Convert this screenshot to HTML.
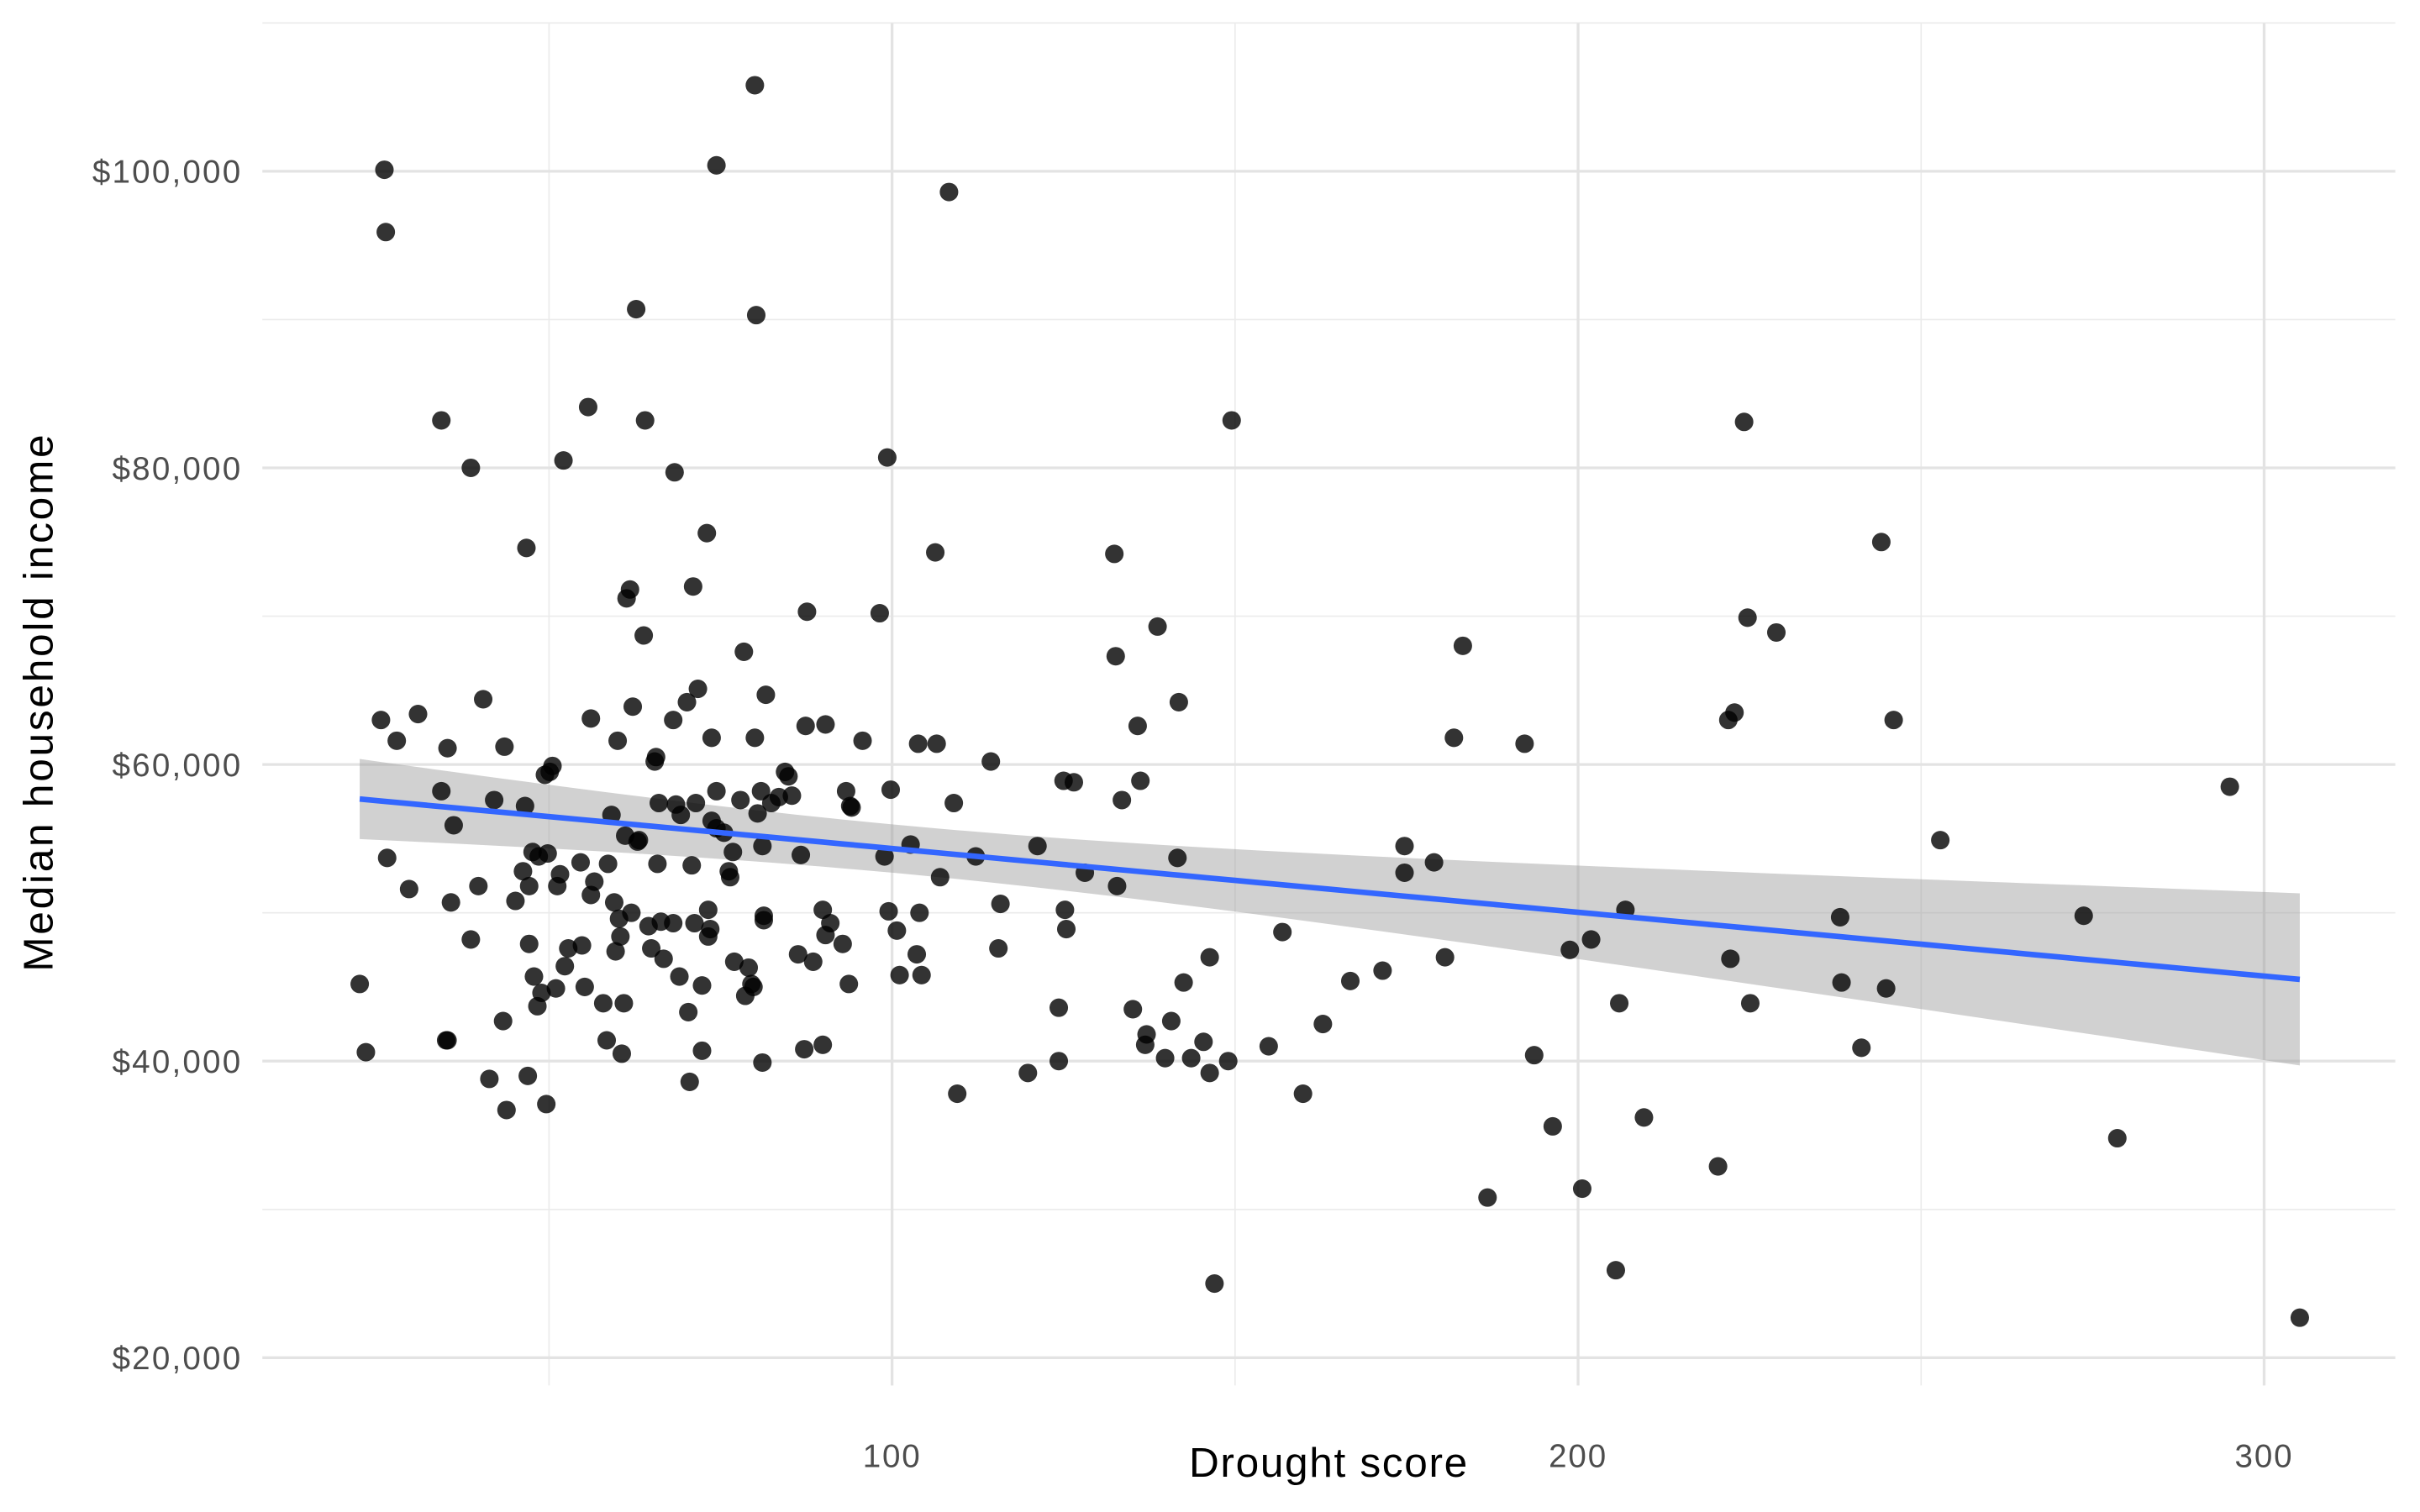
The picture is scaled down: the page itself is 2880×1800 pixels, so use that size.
<!DOCTYPE html>
<html><head><meta charset="utf-8"><style>
html,body{margin:0;padding:0;background:#fff;}
svg{display:block;}
</style></head><body>
<svg id="chart" width="2880" height="1800" viewBox="0 0 1568 980" xmlns="http://www.w3.org/2000/svg" font-family="'Liberation Sans', sans-serif">
<g id="grid"></g>
<g id="band"></g>
<g id="pts"></g>
<g id="fit"></g>
<g id="axes"></g>
<text x="861" y="957" font-size="27" letter-spacing="0.9" text-anchor="middle" fill="#000">Drought score</text>
<text transform="translate(34,455) rotate(-90)" font-size="27" letter-spacing="1.5" text-anchor="middle" fill="#000">Median household income</text>
</svg>
<script>
const droughtScores = [22.4,23.3,26.0,26.2,25.5,26.4,27.8,29.6,30.9,34.3,34.3,35.0,35.2,35.2,35.7,36.1,38.6,38.6,39.7,40.4,41.3,42.0,43.3,43.5,43.8,45.1,46.2,46.5,46.7,46.9,47.1,47.1,47.6,47.8,48.3,48.5,48.9,49.4,49.6,50.1,49.8,50.5,51.0,51.2,51.6,52.1,52.3,52.8,54.6,54.8,55.2,55.7,56.1,56.1,56.6,57.9,58.4,58.6,59.1,59.5,59.7,60.0,60.2,60.4,60.6,60.9,61.1,61.3,61.8,62.0,62.2,62.7,62.9,63.1,63.8,64.0,64.5,64.9,65.4,65.6,65.8,66.0,66.3,66.7,68.1,68.3,68.1,68.5,69.0,69.2,70.1,70.3,70.5,70.8,71.0,71.2,71.4,71.7,72.3,72.3,73.0,73.2,73.2,73.5,73.7,73.7,74.4,74.4,74.4,75.5,76.2,76.4,76.8,77.0,77.9,78.4,78.6,79.1,79.5,79.8,80.2,80.0,80.0,80.4,80.9,81.1,81.3,81.3,81.1,81.6,82.4,83.5,84.4,84.9,85.4,86.3,86.7,87.2,87.6,87.4,88.5,89.9,89.9,90.3,90.3,91.0,92.8,93.3,93.7,93.9,94.1,95.7,98.2,98.9,99.3,99.8,99.5,100.7,101.1,102.7,103.6,103.8,104.0,104.3,106.3,106.5,107.0,108.3,109.0,109.5,112.2,114.4,115.8,115.5,119.8,121.2,124.3,124.3,125.0,125.2,125.4,126.5,128.1,132.4,132.6,132.8,133.5,135.1,135.8,136.2,136.9,137.1,138.7,139.8,140.7,141.6,141.8,142.5,143.6,145.4,146.3,146.3,147.0,149.0,149.5,154.9,156.9,159.9,162.8,166.8,171.5,174.7,174.7,179.0,180.6,181.9,183.2,186.8,192.2,193.6,196.3,198.8,200.6,201.9,205.5,206.0,206.9,209.6,220.4,221.9,222.2,222.8,224.2,224.7,225.1,228.9,238.2,238.4,241.3,244.2,244.9,246.0,252.8,273.7,278.6,295.0,305.2];
const incomesK = [45.2,40.6,100.1,95.9,63.0,53.7,61.6,51.6,63.4,83.2,58.2,41.4,41.4,61.1,50.7,55.9,80.0,48.2,51.8,64.4,38.8,57.6,42.7,61.2,36.7,50.8,52.8,57.2,74.6,39.0,47.9,51.8,54.1,45.7,43.7,53.8,44.6,59.3,37.1,59.5,54.0,59.9,44.9,51.8,52.6,80.5,46.4,47.6,53.4,47.8,45.0,84.1,51.2,63.1,52.1,43.9,41.4,53.3,56.6,50.7,47.4,61.6,49.6,48.4,40.5,43.9,55.2,71.2,71.8,50.0,63.9,90.7,54.8,54.9,68.7,83.2,49.1,47.6,60.2,60.5,53.3,57.4,49.4,46.9,49.3,79.7,63.0,57.3,45.7,56.6,64.2,43.3,38.6,53.2,72.0,49.3,57.4,65.1,45.1,40.7,75.6,50.2,48.4,48.9,61.8,56.2,100.4,55.7,58.2,55.4,52.8,52.4,54.1,46.7,57.6,67.6,44.4,46.3,45.2,45.0,90.3,105.8,61.8,56.7,58.2,54.5,49.8,49.5,39.9,64.7,57.4,57.8,59.5,59.2,57.9,47.2,53.9,40.8,70.3,62.6,46.7,50.2,41.1,62.7,48.5,49.3,47.9,58.2,45.2,57.2,57.1,61.6,70.2,53.8,80.7,58.3,50.1,48.8,45.8,54.6,47.2,61.4,50.0,45.8,74.3,61.4,52.4,98.6,57.4,37.8,53.8,60.2,50.6,47.6,39.2,54.5,43.6,40.0,58.9,50.2,48.9,58.8,52.7,74.2,67.3,51.8,57.6,43.5,62.6,58.9,41.1,41.8,69.3,40.2,42.7,53.7,64.2,45.3,40.2,41.3,39.2,47.0,25.0,40.0,83.2,41.0,48.7,37.8,42.5,45.4,46.1,54.5,52.7,53.4,47.0,61.8,68.0,30.8,61.4,40.4,35.6,47.5,31.4,48.2,25.9,43.9,50.2,36.2,32.9,63.0,46.9,63.5,83.1,69.9,43.9,68.9,49.7,45.3,40.9,75.0,44.9,63.0,54.9,49.8,34.8,58.5,22.7];
const xTicks = [100, 200, 300];
const xMinorTicks = [50, 150, 250];
const yTicks = [20000, 40000, 60000, 80000, 100000];
const yMinorTicks = [30000, 50000, 70000, 90000, 110000];
const yTickLabels = ["$20,000", "$40,000", "$60,000", "$80,000", "$100,000"];

const NS = "http://www.w3.org/2000/svg";
const X0 = 170, X1 = 1552, Y0 = 15, Y1 = 898;
function xs(v){ return 133.5 + v * 4.445; }
function ys(v){ return 880 - (v - 20000) * 0.0096125; }
function mk(tag, attrs, parent){
  const el = document.createElementNS(NS, tag);
  for (const k in attrs) el.setAttribute(k, attrs[k]);
  parent.appendChild(el);
  return el;
}
const grid = document.getElementById('grid');
yMinorTicks.forEach(v => {
  const l = mk('line', {x1:X0, x2:X1, y1:ys(v), y2:ys(v), stroke:'#ebebeb', 'stroke-width':0.9}, grid);
  
  
});
xMinorTicks.forEach(v => {
  const l = mk('line', {x1:xs(v), x2:xs(v), y1:Y0, y2:Y1, stroke:'#ebebeb', 'stroke-width':0.9}, grid);
  
  
});
yTicks.forEach(v => {
  const l = mk('line', {x1:X0, x2:X1, y1:ys(v), y2:ys(v), stroke:'#e3e3e3', 'stroke-width':1.8}, grid);
  
  
});
xTicks.forEach(v => {
  const l = mk('line', {x1:xs(v), x2:xs(v), y1:Y0, y2:Y1, stroke:'#e3e3e3', 'stroke-width':1.8}, grid);
  
  
});
const axes = document.getElementById('axes');
yTicks.forEach((v, i) => {
  const t = mk('text', {x:157, y:ys(v) + 7.5, 'font-size':21, 'letter-spacing':1.2, 'text-anchor':'end', fill:'#4d4d4d'}, axes);
  t.textContent = yTickLabels[i];
  
  
});
xTicks.forEach(v => {
  const t = mk('text', {x:xs(v), y:951, 'font-size':21, 'letter-spacing':1, 'text-anchor':'middle', fill:'#4d4d4d'}, axes);
  t.textContent = String(v);
  
  
});

const pts = document.getElementById('pts');
droughtScores.forEach((d, i) => {
  const c = mk('circle', {cx:xs(d), cy:ys(incomesK[i] * 1000), r:6, fill:'#000', 'fill-opacity':0.8}, pts);
  
  
});

const n = droughtScores.length;
const ys_ = incomesK.map(v => v * 1000);
const mx = droughtScores.reduce((a,b)=>a+b,0)/n;
const my = ys_.reduce((a,b)=>a+b,0)/n;
let sxx = 0, sxy = 0;
for (let i=0;i<n;i++){ sxx += (droughtScores[i]-mx)**2; sxy += (droughtScores[i]-mx)*(ys_[i]-my); }
const b = sxy/sxx, a = my - b*mx;
let sse = 0;
for (let i=0;i<n;i++){ sse += (ys_[i] - a - b*droughtScores[i])**2; }
const s = Math.sqrt(sse/(n-2));
const tval = 1.97;
const xmin = Math.min(...droughtScores), xmax = Math.max(...droughtScores);
const up = [], lo = [], mid = [];
for (let k=0;k<=80;k++){
  const x = xmin + (xmax-xmin)*k/80;
  const yhat = a + b*x;
  const se = s*Math.sqrt(1/n + (x-mx)**2/sxx);
  up.push(xs(x)+','+ys(yhat + tval*se));
  lo.push(xs(x)+','+ys(yhat - tval*se));
  mid.push(xs(x)+','+ys(yhat));
}
const band = mk('polygon', {points: up.concat(lo.reverse()).join(' '), fill:'#999999', 'fill-opacity':0.45}, document.getElementById('band'));


const fl = mk('polyline', {points: mid.join(' '), fill:'none', stroke:'#3366FF', 'stroke-width':3.6}, document.getElementById('fit'));


</script>
</body></html>
